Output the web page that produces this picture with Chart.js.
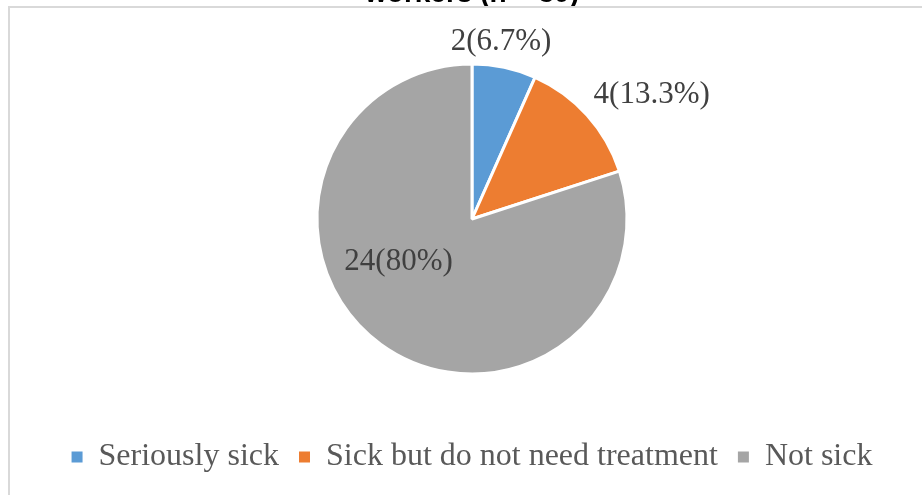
<!DOCTYPE html>
<html>
<head>
<meta charset="utf-8">
<script src="https://cdn.jsdelivr.net/npm/chart.js@4/dist/chart.umd.min.js"></script>
<style>
  html, body { margin: 0; padding: 0; background: #fff; overflow: hidden; }
  body { width: 922px; height: 495px; position: relative; }
  #wrap { position: absolute; left: 0; top: -23px; width: 922px; height: 518px; }
  #frame {
    position: absolute; left: 8px; top: 6px; width: 940px; height: 600px;
    border-left: 2px solid #d9d9d9; border-top: 2px solid #d9d9d9;
    pointer-events: none;
  }
</style>
</head>
<body>
<div id="wrap"><canvas id="chart"></canvas></div>
<div id="frame"></div>
<script>
// Workers by health status
const categories = ['Seriously sick', 'Sick but do not need treatment', 'Not sick'];
const counts = [2, 4, 24];
const sliceColors = ['#5B9BD5', '#ED7D31', '#A5A5A5'];

const total = counts.reduce((a, b) => a + b, 0);
const pct = (v) => {
    const p = (v / total * 100).toFixed(1);
    return p.endsWith('.0') ? p.slice(0, -2) : p;
};

// Where each value label sits: angle shift from slice middle (deg) and radius factor
const labelPlacement = [
    { shift: -2.7, k: 1.16 },
    { shift: 7.3, k: 1.41 },
    { shift: 23.5, k: 0.55 }
];

const sliceLabels = {
    id: 'sliceLabels',
    afterDatasetsDraw(chart) {
        const ctx = chart.ctx;
        const meta = chart.getDatasetMeta(0);
        ctx.save();
        ctx.font = '31px "Liberation Serif", "Times New Roman", serif';
        ctx.fillStyle = '#404040';
        ctx.textAlign = 'center';
        ctx.textBaseline = 'middle';
        meta.data.forEach((arc, i) => {
            const { x, y, startAngle, endAngle, outerRadius } = arc.getProps(['x', 'y', 'startAngle', 'endAngle', 'outerRadius'], true);
            const p = labelPlacement[i];
            const a = (startAngle + endAngle) / 2 + p.shift * Math.PI / 180;
            const r = outerRadius * p.k;
            ctx.fillText(`${counts[i]}(${pct(counts[i])}%)`, x + Math.cos(a) * r, y + Math.sin(a) * r);
        });
        ctx.restore();
    }
};

const baseLabels = Chart.overrides.doughnut.plugins.legend.labels.generateLabels;

new Chart(document.getElementById('chart'), {
    type: 'pie',
    data: {
        labels: categories,
        datasets: [{
            data: counts,
            backgroundColor: sliceColors,
            borderColor: '#ffffff',
            borderWidth: 3,
            radius: 155
        }]
    },
    options: {
        responsive: true,
        maintainAspectRatio: false,
        animation: false,
        layout: { padding: { left: 22, right: 0, top: 0, bottom: 12 } },
        plugins: {
            title: {
                display: true,
                text: 'workers (n = 30)',
                color: '#000000',
                font: { family: '"Liberation Sans", Arial, sans-serif', size: 28, weight: 'bold', lineHeight: 1.2 },
                padding: { top: 0, bottom: 6.4 }
            },
            legend: {
                position: 'bottom',
                labels: {
                    boxWidth: 11,
                    boxHeight: 11,
                    padding: 20,
                    color: '#595959',
                    font: { family: '"Liberation Serif", "Times New Roman", serif', size: 32 },
                    generateLabels: (chart) => baseLabels(chart).map(l => ({ ...l, lineWidth: 0 }))
                }
            },
            tooltip: { enabled: false }
        }
    },
    plugins: [sliceLabels]
});
</script>
</body>
</html>
